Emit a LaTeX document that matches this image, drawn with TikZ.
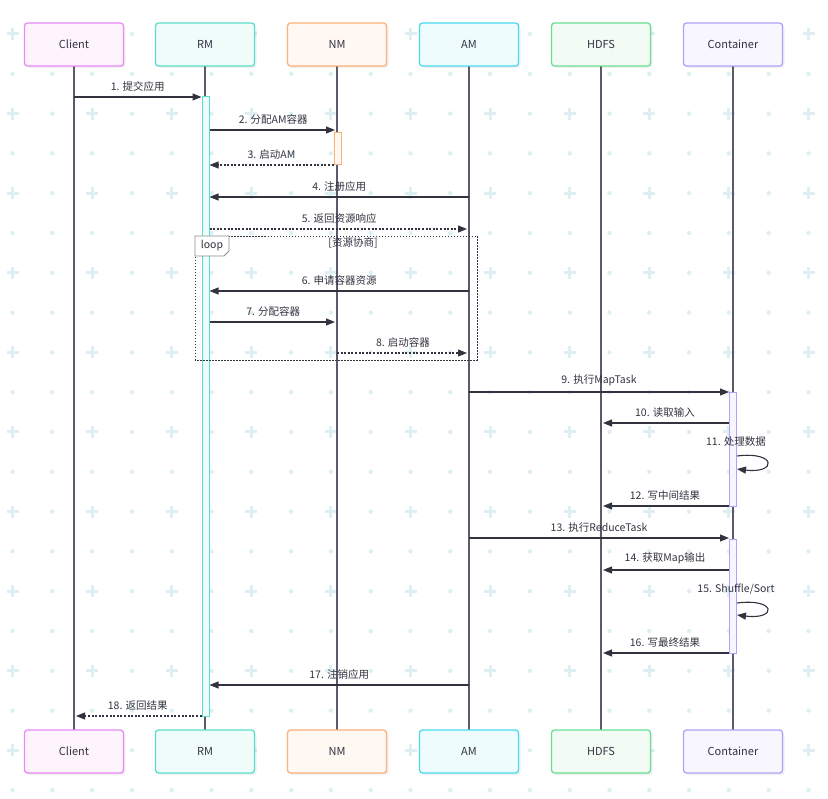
\documentclass[tikz,border=0pt]{standalone}
\usepackage{fontspec}
\setmainfont{Noto Sans CJK SC}
\usepackage{xcolor}
\usetikzlibrary{arrows.meta,shadows}

\definecolor{ink}{HTML}{333340}
\definecolor{lifegray}{HTML}{5A5A68}
\definecolor{dotc}{HTML}{DDEFF3}
\definecolor{cliC}{HTML}{E98AF7}
\definecolor{rmC}{HTML}{5ADFCB}
\definecolor{nmC}{HTML}{FDB077}
\definecolor{amC}{HTML}{4ADBEF}
\definecolor{hdfsC}{HTML}{6ADF92}
\definecolor{ctrC}{HTML}{B4A0F8}

\tikzset{
  actor/.style={draw=#1, fill=#1!9!white, line width=1.3pt, rounded corners=3pt,
    minimum width=99pt, minimum height=43pt, font=\fontsize{11}{13}\selectfont, text=ink,
    drop shadow={shadow xshift=2pt, shadow yshift=-2pt, fill=black, opacity=0.06}},
  life/.style={draw=lifegray, line width=1.3pt},
  actbar/.style={draw=#1, fill=#1!10!white, line width=1pt, minimum width=7pt, inner sep=0pt},
  msg/.style={draw=ink, line width=1.1pt, -{Triangle[length=9pt,width=7pt]}},
  reply/.style={msg, dash pattern=on 2pt off 1.6pt},
  lbl/.style={above=5.5pt, inner sep=0pt, font=\fontsize{10.5}{12}\selectfont, text=ink},
  selfl/.style={inner sep=0pt, font=\fontsize{10.5}{12}\selectfont, text=ink}
}

\begin{document}
\begin{tikzpicture}[x=1pt,y=-1pt]
  \fill[white] (0,0) rectangle (828,799);
  \useasboundingbox (0,0) rectangle (828,799);

  \foreach \i in {0,...,20}
    \foreach \j in {0,...,19}
      \fill[dotc] (12.5+39.8*\i,34+39.8*\j) circle (2.2pt);
  \foreach \i in {0,...,10}
    \foreach \j in {0,...,9}
      \draw[dotc, line width=3pt] (12.5+79.6*\i-6,34+79.6*\j) -- ++(12,0)
        (12.5+79.6*\i,34+79.6*\j-6) -- ++(0,12);

  \foreach \n/\t/\x/\c in {client/Client/74/cliC, rm/RM/205/rmC, nm/NM/337/nmC,
      am/AM/469/amC, hdfs/HDFS/601/hdfsC, ctr/Container/733/ctrC} {
    \draw[life] (\x,66) -- (\x,730);
    \node[actor=\c] (\n) at (\x,44.5) {\t};
    \node[actor=\c] (\n B) at (\x,751.5) {\t};
  }

  \node[actbar=rmC, minimum height=619pt] (rmAct) at (205.5,406.5) {};
  \node[actbar=nmC, minimum height=32pt] (nmAct) at (337.5,149) {};
  \node[actbar=ctrC, minimum height=114pt] (ctrAct1) at (733,450) {};
  \node[actbar=ctrC, minimum height=113pt] (ctrAct2) at (733,596.5) {};

  \draw[ink, line width=0.9pt, dash pattern=on 1.5pt off 1.5pt] (195,236) rectangle (477,360);
  \draw[draw=black!45, fill=white, line width=0.9pt] (195,236) -- (229,236) -- (229,251) -- (224,256) -- (195,256) -- cycle;
  \node[selfl] (loopTag) at (212,246) {loop};
  \node[selfl] (loopCond) at (353,243) {[资源协商]};

  \draw[msg] (client |- 0,97) -- node[lbl]{1. 提交应用} (rmAct.west |- 0,97);
  \draw[msg, shorten >=2pt] (rmAct.east |- 0,130) -- node[lbl]{2. 分配AM容器} (nm |- 0,130);
  \draw[reply] (nmAct.west |- 0,165) -- node[lbl]{3. 启动AM} (rmAct.east |- 0,165);
  \draw[msg] (am |- 0,197) -- node[lbl]{4. 注册应用} (rmAct.east |- 0,197);
  \draw[reply, shorten >=2pt] (rmAct.east |- 0,229) -- node[lbl]{5. 返回资源响应} (am |- 0,229);
  \draw[msg] (am |- 0,291) -- node[lbl]{6. 申请容器资源} (rmAct.east |- 0,291);
  \draw[msg, shorten >=2pt] (rmAct.east |- 0,322) -- node[lbl]{7. 分配容器} (nm |- 0,322);
  \draw[reply, shorten >=2pt] (nm |- 0,353) -- node[lbl]{8. 启动容器} (am |- 0,353);
  \draw[msg] (am |- 0,392) -- node[lbl]{9. 执行MapTask} (ctrAct1.west |- 0,392);
  \draw[msg, shorten >=2pt] (ctrAct1.west |- 0,423) -- node[lbl]{10. 读取输入} (hdfs |- 0,423);
  \node[selfl] (self11) at (736,442) {11. 处理数据};
  \draw[msg] (ctrAct1.east |- 0,456) .. controls (777,451) and (777,474) .. (ctrAct1.east |- 0,469);
  \draw[msg, shorten >=2pt] (ctrAct1.west |- 0,506) -- node[lbl]{12. 写中间结果} (hdfs |- 0,506);
  \draw[msg] (am |- 0,538) -- node[lbl]{13. 执行ReduceTask} (ctrAct2.west |- 0,538);
  \draw[msg, shorten >=2pt] (ctrAct2.west |- 0,570) -- node[lbl]{14. 获取Map输出} (hdfs |- 0,570);
  \node[selfl] (self15) at (736,589) {15. Shuffle/Sort};
  \draw[msg] (ctrAct2.east |- 0,603) .. controls (777,598) and (777,620) .. (ctrAct2.east |- 0,615);
  \draw[msg, shorten >=2pt] (ctrAct2.west |- 0,653) -- node[lbl]{16. 写最终结果} (hdfs |- 0,653);
  \draw[msg] (am |- 0,685) -- node[lbl]{17. 注销应用} (rmAct.east |- 0,685);
  \draw[reply, shorten >=2pt] (rmAct.west |- 0,716) -- node[lbl]{18. 返回结果} (client |- 0,716);
\end{tikzpicture}
\end{document}
